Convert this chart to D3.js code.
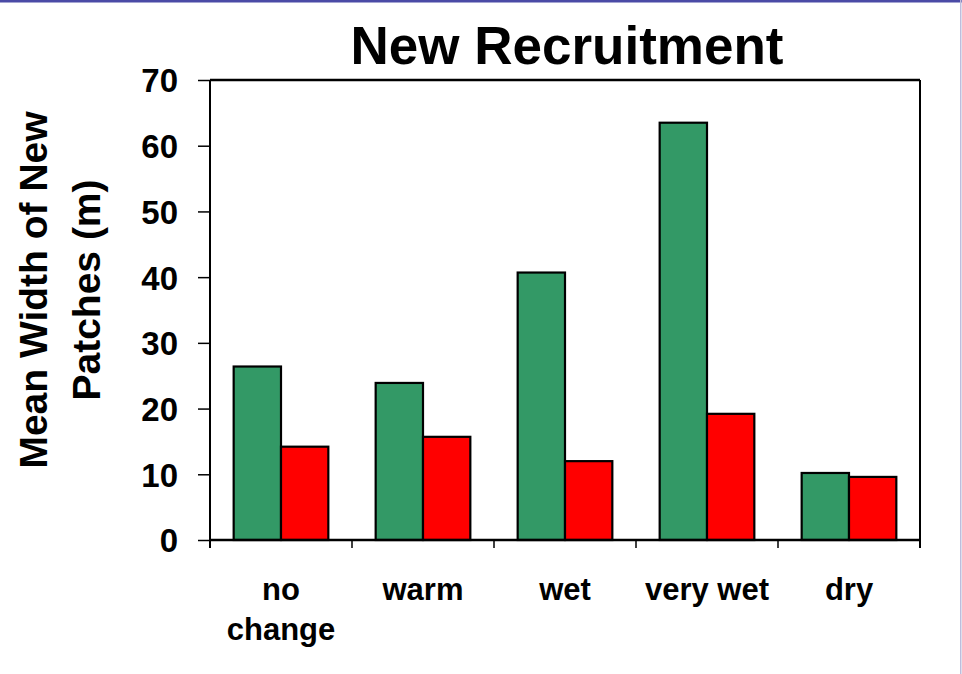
<!DOCTYPE html>
<html>
<head>
<meta charset="utf-8">
<script src="https://cdn.jsdelivr.net/npm/d3@7"></script>
<style>
  html, body { margin: 0; padding: 0; background: #fff; }
  svg { display: block; }
  text { font-family: Arial, "Liberation Sans", Helvetica, sans-serif; font-weight: bold; fill: #000; }
</style>
</head>
<body>
<script>
const categories = ["no change", "warm", "wet", "very wet", "dry"];
const categoryLines = [["no", "change"], ["warm"], ["wet"], ["very wet"], ["dry"]];
const seriesNames = ["A", "B"];
const seriesA = [26.4, 23.9, 40.7, 63.5, 10.2];
const seriesB = [14.2, 15.7, 12.0, 19.2, 9.6];
const yTicks = [0, 10, 20, 30, 40, 50, 60, 70];
const colors = ["#339966", "#FF0000"];
const title = "New Recruitment";
const yTitleLines = ["Mean Width of New", "Patches (m)"];

const W = 962, H = 674;
const m = { left: 210, right: 920, top: 80, bottom: 540 };

const svg = d3.select("body").append("svg").attr("width", W).attr("height", H);

// page decorations
svg.append("rect").attr("x", 0).attr("y", 0).attr("width", W).attr("height", 2.5).attr("fill", "#4b4ba6");
svg.append("rect").attr("x", 960).attr("y", 0).attr("width", 1.5).attr("height", H).attr("fill", "#bdbddc");

const x0 = d3.scaleBand().domain(categories).range([m.left, m.right]).paddingInner(0).paddingOuter(0);
const x1 = d3.scaleBand().domain(seriesNames).range([0, x0.bandwidth()]).paddingInner(0).paddingOuter(0.5);
const y = d3.scaleLinear().domain([0, 70]).range([m.bottom, m.top]);

// frame top & right
svg.append("line").attr("x1", m.left).attr("x2", m.right).attr("y1", m.top).attr("y2", m.top)
  .attr("stroke", "#000").attr("stroke-width", 2.5);
svg.append("line").attr("x1", m.right).attr("x2", m.right).attr("y1", m.top).attr("y2", m.bottom + 8)
  .attr("stroke", "#000").attr("stroke-width", 2);

// bars
const data = categories.map((c, i) => ({ c, vals: [seriesA[i], seriesB[i]] }));
const g = svg.append("g");
data.forEach(d => {
  d.vals.forEach((v, j) => {
    g.append("rect")
      .attr("x", x0(d.c) + x1(seriesNames[j]))
      .attr("y", y(v))
      .attr("width", x1.bandwidth())
      .attr("height", y(0) - y(v))
      .attr("fill", colors[j])
      .attr("stroke", "#000")
      .attr("stroke-width", 2.2);
  });
});

// y axis
const yAxis = d3.axisLeft(y).tickValues(yTicks).tickSize(12).tickPadding(20).tickFormat(d3.format("d"));
const ya = svg.append("g").attr("transform", `translate(${m.left},0)`).call(yAxis);
ya.select(".domain").attr("d", `M${0},${m.top}V${m.bottom + 8}`).attr("stroke", "#000").attr("stroke-width", 2);
ya.selectAll(".tick line").attr("stroke", "#000").attr("stroke-width", 1.5);
ya.selectAll(".tick text").attr("font-size", 33).attr("font-family", "Arial, 'Liberation Sans', sans-serif")
  .attr("font-weight", "bold").attr("fill", "#000").attr("dy", "0.36em");

// x axis (ticks at category boundaries)
const bounds = categories.map(c => x0(c)).concat([m.right]);
svg.append("line").attr("x1", m.left).attr("x2", m.right).attr("y1", m.bottom).attr("y2", m.bottom)
  .attr("stroke", "#000").attr("stroke-width", 2.5);
svg.selectAll(".xt").data(bounds).enter().append("line")
  .attr("x1", d => d).attr("x2", d => d).attr("y1", m.bottom).attr("y2", m.bottom + 8)
  .attr("stroke", "#000").attr("stroke-width", 1.5);

categories.forEach((c, i) => {
  const cx = x0(c) + x0.bandwidth() / 2;
  const t = svg.append("text").attr("x", cx).attr("y", 600).attr("text-anchor", "middle").attr("font-size", 31);
  categoryLines[i].forEach((ln, k) => {
    t.append("tspan").attr("x", cx).attr("y", 600 + k * 40).text(ln);
  });
});

// title
svg.append("text").attr("x", 567).attr("y", 64).attr("text-anchor", "middle").attr("font-size", 53).text(title);

// y title
const yt = svg.append("text").attr("transform", "translate(0,290) rotate(-90)").attr("text-anchor", "middle").attr("font-size", 39);
yTitleLines.forEach((ln, k) => {
  yt.append("tspan").attr("x", 0).attr("y", 47 + k * 53).text(ln);
});
</script>
</body>
</html>
